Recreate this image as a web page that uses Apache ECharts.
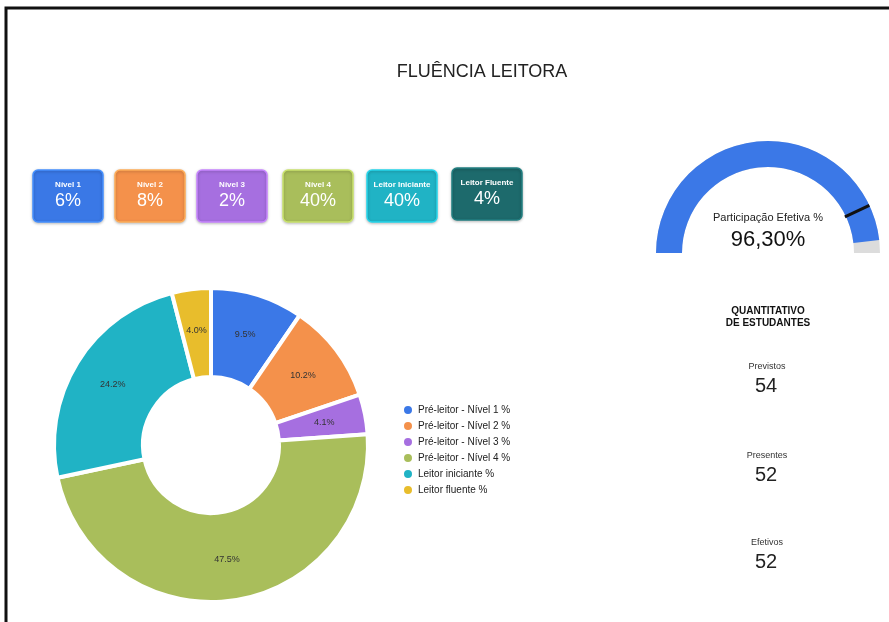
<!DOCTYPE html>
<html>
<head>
<meta charset="utf-8">
<script src="https://cdn.jsdelivr.net/npm/echarts@6/dist/echarts.min.js"></script>
<style>
  html, body { margin: 0; padding: 0; background: #fff; }
  #main { width: 889px; height: 622px; }
</style>
</head>
<body>
<div id="main"></div>
<script>
// cartões do topo
const boxLabels = ["Nível 1", "Nível 2", "Nível 3", "Nível 4", "Leitor Iniciante", "Leitor Fluente"];
const boxValues = ["6%", "8%", "2%", "40%", "40%", "4%"];
const boxColors = ["#3a78e6", "#f4914b", "#a66fe0", "#a9be5b", "#20b3c5", "#1d6a6c"];

// rosca
const pieNames = [
  "Pré-leitor - Nível 1 %",
  "Pré-leitor - Nível 2 %",
  "Pré-leitor - Nível 3 %",
  "Pré-leitor - Nível 4 %",
  "Leitor iniciante %",
  "Leitor fluente %"
];
const pieValues = [9.5, 10.2, 4.1, 47.5, 24.2, 4.0];
const pieColors = ["#3b78e7", "#f4914b", "#a66fe0", "#a9be5b", "#20b3c5", "#e8bd2c"];

// participação
const participacao = 96.3;
const meta = 86;

// quantitativo
const qtdLabels = ["Previstos", "Presentes", "Efetivos"];
const qtdValues = [54, 52, 52];

const FONT = "Liberation Sans, Arial, sans-serif";

const myChart = echarts.init(document.getElementById("main"));

const boxX = [33, 115, 197, 283, 367, 452];
const graphics = [
  // moldura
  {
    type: "polyline",
    shape: { points: [[6, 622], [6, 8], [889, 8]] },
    style: { stroke: "#111", lineWidth: 3, fill: null }
  }
];

boxLabels.forEach(function (lab, i) {
  const y0 = i === 5 ? 168 : 170;
  graphics.push({
    type: "rect",
    shape: { x: boxX[i], y: y0, width: 70, height: 52, r: 5 },
    style: {
      fill: boxColors[i],
      stroke: echarts.color.lift(boxColors[i], -0.2),
      lineWidth: 1.5,
      shadowBlur: 3,
      shadowColor: "rgba(0,0,0,0.25)",
      shadowOffsetY: 1
    }
  });
  graphics.push({
    type: "text",
    x: boxX[i] + 35,
    y: y0 + 15,
    style: {
      text: lab,
      fill: "#fff",
      font: "bold 8px " + FONT,
      align: "center",
      verticalAlign: "middle"
    }
  });
  graphics.push({
    type: "text",
    x: boxX[i] + 35,
    y: y0 + 31,
    style: {
      text: boxValues[i],
      fill: "#fff",
      font: "18px " + FONT,
      align: "center",
      verticalAlign: "middle"
    }
  });
});

// quantitativo de estudantes
graphics.push({
  type: "text",
  x: 768,
  y: 317,
  style: {
    text: "QUANTITATIVO\nDE ESTUDANTES",
    fill: "#111",
    font: "bold 10px " + FONT,
    align: "center",
    verticalAlign: "middle",
    lineHeight: 12
  }
});
const qtdY = [367, 456, 543];
qtdLabels.forEach(function (lab, i) {
  graphics.push({
    type: "text",
    x: 767,
    y: qtdY[i],
    style: { text: lab, fill: "#333", font: "9px " + FONT, align: "center", verticalAlign: "middle" }
  });
  graphics.push({
    type: "text",
    x: 766,
    y: qtdY[i] + 19,
    style: { text: String(qtdValues[i]), fill: "#222", font: "20px " + FONT, align: "center", verticalAlign: "middle" }
  });
});

const option = {
  color: pieColors,
  title: {
    text: "FLUÊNCIA LEITORA",
    left: 477,
    textAlign: "center",
    top: 58,
    textStyle: { fontFamily: FONT, fontSize: 18, fontWeight: "normal", color: "#222" }
  },
  legend: {
    orient: "vertical",
    left: 397,
    top: 399,
    icon: "circle",
    itemWidth: 10,
    itemHeight: 10,
    itemGap: 4,
    textStyle: { fontFamily: FONT, fontSize: 10, color: "#222" },
    data: pieNames
  },
  graphic: graphics,
  series: [
    {
      type: "pie",
      center: [211, 445],
      radius: [68, 157],
      startAngle: 90,
      clockwise: true,
      avoidLabelOverlap: false,
      itemStyle: { borderColor: "#fff", borderWidth: 4 },
      label: {
        show: true,
        position: "inside",
        fontFamily: FONT,
        fontSize: 9,
        color: "#333",
        formatter: function (p) { return p.value.toFixed(1) + "%"; }
      },
      labelLine: { show: false },
      emphasis: { scale: false },
      data: pieNames.map(function (n, i) { return { name: n, value: pieValues[i] }; })
    },
    {
      type: "gauge",
      center: [768, 253],
      radius: 112,
      startAngle: 180,
      endAngle: 0,
      min: 0,
      max: 100,
      axisLine: { lineStyle: { width: 26, color: [[1, "#dcdcdc"]] } },
      progress: { show: true, width: 26, itemStyle: { color: "#3b78e7" } },
      pointer: { show: false },
      axisTick: { show: false },
      splitLine: { show: false },
      axisLabel: { show: false },
      anchor: { show: false },
      title: {
        offsetCenter: [0, -35],
        fontFamily: FONT,
        fontSize: 11,
        color: "#222"
      },
      detail: {
        offsetCenter: [0, -13],
        fontFamily: FONT,
        fontSize: 22,
        fontWeight: "normal",
        color: "#111",
        formatter: function (v) { return v.toFixed(2).replace(".", ",") + "%"; }
      },
      data: [{ value: participacao, name: "Participação Efetiva %" }]
    },
    {
      type: "gauge",
      z: 10,
      center: [768, 253],
      radius: 112,
      startAngle: 180,
      endAngle: 0,
      min: 0,
      max: 100,
      axisLine: { show: false },
      progress: { show: false },
      pointer: {
        show: true,
        icon: "rect",
        width: 3,
        length: 27,
        offsetCenter: [0, -85],
        itemStyle: { color: "#111" }
      },
      axisTick: { show: false },
      splitLine: { show: false },
      axisLabel: { show: false },
      anchor: { show: false },
      title: { show: false },
      detail: { show: false },
      data: [{ value: meta }]
    }
  ]
};

myChart.setOption(option);
</script>
</body>
</html>
